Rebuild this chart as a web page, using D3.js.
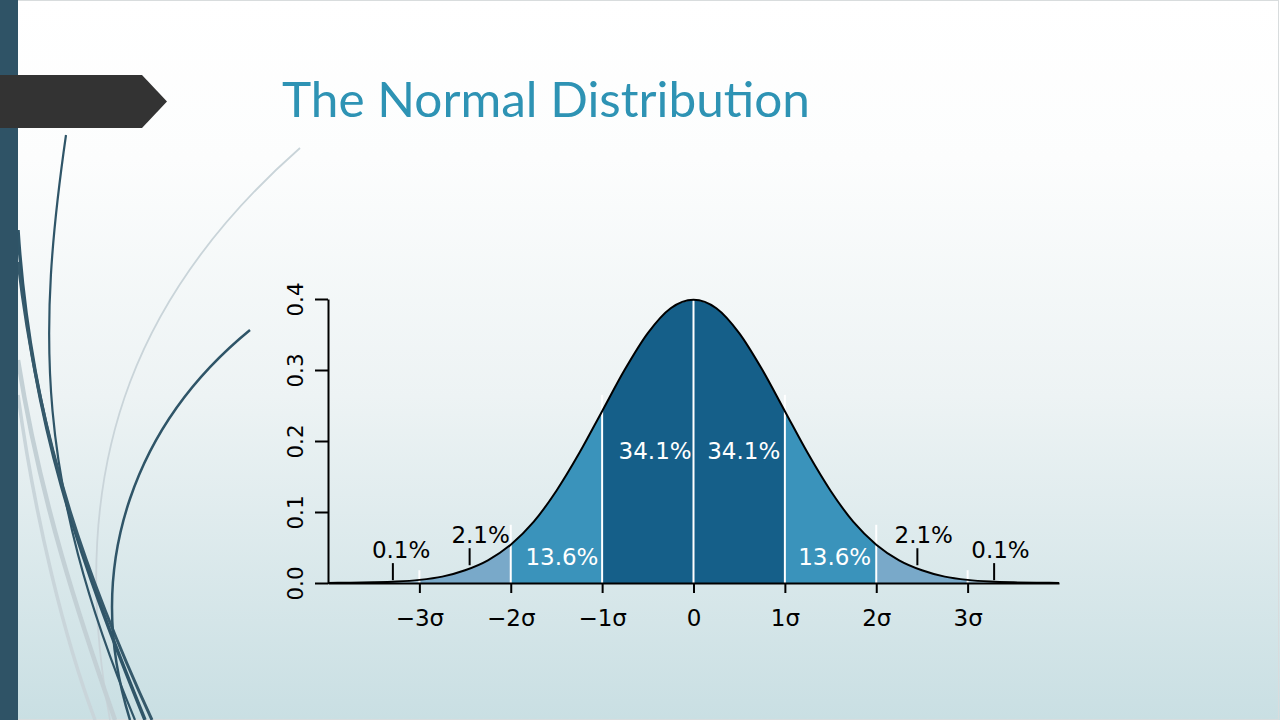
<!DOCTYPE html>
<html>
<head>
<meta charset="utf-8">
<script src="https://cdn.jsdelivr.net/npm/d3@7"></script>
<style>
  html, body { margin: 0; padding: 0; overflow: hidden; }
  svg { display: block; }
</style>
</head>
<body>
<svg id="canvas" width="1280" height="720"></svg>
<script>
const sigmaSteps = [-4, -3.75, -3.5, -3.25, -3, -2.75, -2.5, -2.25, -2, -1.75, -1.5, -1.25, -1, -0.75, -0.5, -0.25, 0,
  0.25, 0.5, 0.75, 1, 1.25, 1.5, 1.75, 2, 2.25, 2.5, 2.75, 3, 3.25, 3.5, 3.75, 4]
const density = [0.0001, 0.0004, 0.0009, 0.002, 0.0044, 0.009, 0.018, 0.032, 0.054, 0.086, 0.13, 0.183, 0.242, 0.301, 0.352, 0.387, 0.399,
  0.387, 0.352, 0.301, 0.242, 0.183, 0.13, 0.086, 0.054, 0.032, 0.018, 0.009, 0.0044, 0.002, 0.0009, 0.0004, 0.0001]

const bandEdges = [-4, -3, -2, -1, 0, 1, 2, 3, 4]
const bandShares = ["0.1%", "2.1%", "13.6%", "34.1%", "34.1%", "13.6%", "2.1%", "0.1%"]
const shareX = [-3.2, -2.33, -1.44, -0.42, 0.55, 1.545, 2.52, 3.36]
const shareY = [0.035, 0.056, 0.025, 0.174, 0.174, 0.025, 0.056, 0.035]

const sigmaTicks = [-3, -2, -1, 0, 1, 2, 3]
const sigmaLabels = ["\u22123\u03c3", "\u22122\u03c3", "\u22121\u03c3", "0", "1\u03c3", "2\u03c3", "3\u03c3"]
const dividerTop = [0.018, 0.082, 0.265, 0.399, 0.265, 0.082, 0.018]
const yTicks = [0.0, 0.1, 0.2, 0.3, 0.4]

// little black pointers from the small labels down to the tails
const pointerX = [-3.29, -2.45, 2.45, 3.29]
const pointerFrom = [0.004, 0.025, 0.025, 0.004]
const pointerTo = [0.028, 0.049, 0.049, 0.028]

const FONT = "'DejaVu Sans', sans-serif"

const svg = d3.select("#canvas")

// slide background
const defs = svg.append("defs")
const grad = defs.append("linearGradient").attr("id", "bg").attr("x1", 0).attr("y1", 0).attr("x2", 0).attr("y2", 1)
grad.append("stop").attr("offset", "0%").attr("stop-color", "#ffffff")
grad.append("stop").attr("offset", "22%").attr("stop-color", "#fcfdfd")
grad.append("stop").attr("offset", "55%").attr("stop-color", "#edf3f4")
grad.append("stop").attr("offset", "100%").attr("stop-color", "#c9dfe3")
svg.append("rect").attr("width", 1280).attr("height", 720).attr("fill", "url(#bg)")
svg.append("rect").attr("x", 0.5).attr("y", 0.5).attr("width", 1278).attr("height", 719)
  .attr("fill", "none").attr("stroke", "#d8dcdd").attr("stroke-width", 1)

// decorative swooshes on the left
const swooshes = [
  { d: "M300,148 C150,280 60,450 110,720", color: "#c9d4d9", w: 1.8 },
  { d: "M18,360 C40,500 80,620 115,720", color: "#c3d0d5", w: 4.5 },
  { d: "M18,395 C35,520 65,640 95,720", color: "#c9d5da", w: 3.5 },
  { d: "M66,135 C38,330 35,480 135,720", color: "#2f5568", w: 2.2 },
  { d: "M18,230 C30,420 80,560 145,720", color: "#2f5568", w: 3.5 },
  { d: "M18,262 C40,450 90,585 152,720", color: "#35596b", w: 3 },
  { d: "M250,330 C140,420 80,560 130,720", color: "#2f5568", w: 2.5 },
]
svg.append("g").selectAll("path").data(swooshes).enter().append("path")
  .attr("d", (d) => d.d).attr("fill", "none")
  .attr("stroke", (d) => d.color).attr("stroke-width", (d) => d.w)

svg.append("rect").attr("x", 0).attr("y", 0).attr("width", 18).attr("height", 720).attr("fill", "#2f5366")
svg.append("path").attr("d", "M0,75 H142 L167,101.5 L142,128 H0 Z").attr("fill", "#333333")

svg.append("text")
  .attr("x", 282).attr("y", 117)
  .attr("textLength", 528).attr("lengthAdjust", "spacingAndGlyphs")
  .style("font-family", "Lato, 'Open Sans', sans-serif")
  .style("font-size", "48px")
  .attr("fill", "#2e93b4")
  .text("The Normal Distribution")

// chart
const x = d3.scaleLinear().domain([-4, 4]).range([328, 1059])
const y = d3.scaleLinear().domain([0, 0.4]).range([583, 299])
const shade = d3.scaleThreshold().domain([1, 2, 3]).range(["#155f89", "#3a93bb", "#79a9c9", "#a3c4da"])

const points = sigmaSteps.map((s, i) => ({ s: s, p: density[i] }))
const area = d3.area().x((d) => x(d.s)).y0(y(0)).y1((d) => y(d.p)).curve(d3.curveMonotoneX)
const line = d3.line().x((d) => x(d.s)).y((d) => y(d.p)).curve(d3.curveMonotoneX)

const bands = bandShares.map((share, i) => ({ a: bandEdges[i], b: bandEdges[i + 1], share: share, lx: shareX[i], ly: shareY[i] }))
const chart = svg.append("g")

chart.selectAll(".band").data(bands).enter().append("path")
  .attr("class", "band")
  .attr("d", (d) => area(points.filter((p) => p.s >= d.a && p.s <= d.b)))
  .attr("fill", (d) => shade(Math.abs((d.a + d.b) / 2)))

chart.selectAll(".divider").data(sigmaTicks).enter().append("line")
  .attr("class", "divider")
  .attr("x1", (d) => x(d)).attr("x2", (d) => x(d))
  .attr("y1", y(0)).attr("y2", (d, i) => y(dividerTop[i]))
  .attr("stroke", "#ffffff").attr("stroke-width", 2)

chart.append("path").attr("d", line(points)).attr("fill", "none").attr("stroke", "#000").attr("stroke-width", 2)

chart.selectAll(".pointer").data(pointerX).enter().append("line")
  .attr("class", "pointer")
  .attr("x1", (d) => x(d)).attr("x2", (d) => x(d))
  .attr("y1", (d, i) => y(pointerFrom[i])).attr("y2", (d, i) => y(pointerTo[i]))
  .attr("stroke", "#000").attr("stroke-width", 2)

chart.selectAll(".share").data(bands).enter().append("text")
  .attr("class", "share")
  .attr("x", (d) => x(d.lx)).attr("y", (d) => y(d.ly))
  .attr("text-anchor", "middle")
  .style("font-family", FONT).style("font-size", "23px")
  .attr("fill", (d) => (Math.abs(d.a + d.b) / 2 < 2 ? "#ffffff" : "#000000"))
  .text((d) => d.share)

// axes
const xAxis = svg.append("g")
  .attr("transform", `translate(0,${y(0)})`)
  .call(d3.axisBottom(x).tickValues(sigmaTicks).tickFormat((d, i) => sigmaLabels[i]).tickSize(10).tickSizeOuter(0))
xAxis.selectAll("path, line").attr("stroke", "#000").attr("stroke-width", 2)
xAxis.selectAll("text")
  .attr("dy", null).attr("y", 43)
  .style("font-family", FONT).style("font-size", "23px").attr("fill", "#000")

const yAxis = svg.append("g")
  .attr("transform", `translate(${x(-4)},0)`)
  .call(d3.axisLeft(y).tickValues(yTicks).tickFormat(d3.format(".1f")).tickSize(13).tickSizeOuter(0))
yAxis.selectAll("path, line").attr("stroke", "#000").attr("stroke-width", 2)
yAxis.selectAll("text")
  .attr("x", null).attr("dy", null)
  .attr("text-anchor", "middle")
  .attr("transform", "translate(-25,0) rotate(-90)")
  .style("font-family", FONT).style("font-size", "21.5px").attr("fill", "#000")
</script>
</body>
</html>
